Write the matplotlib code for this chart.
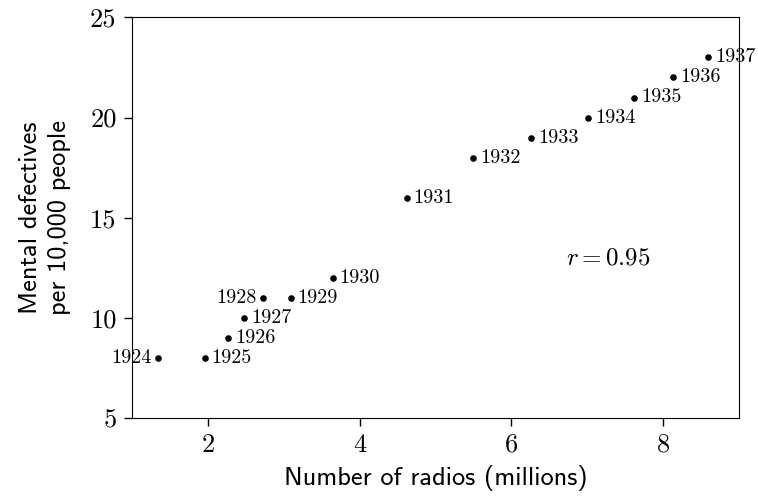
"""Radios vs mental defectives scatter"""

import matplotlib.pyplot as plt

plt.rcParams['mathtext.fontset'] = 'cm'
plt.rcParams['axes.unicode_minus'] = False

years = [1924, 1925, 1926, 1927, 1928, 1929, 1930,
         1931, 1932, 1933, 1934, 1935, 1936, 1937]
radios = [1.350, 1.960, 2.270, 2.483, 2.730, 3.091, 3.647,
          4.620, 5.497, 6.260, 7.012, 7.618, 8.131, 8.593]
defectives = [8, 8, 9, 10, 11, 11, 12, 16, 18, 19, 20, 21, 22, 23]
left_labels = [1924, 1928]

fig = plt.figure(figsize=(7.58, 4.97), dpi=100)
ax = fig.add_axes([0.174, 0.159, 0.801, 0.806])

ax.scatter(radios, defectives, s=14, color='black', zorder=3)

# 年份标注
for yr, x, y in zip(years, radios, defectives):
    if yr in left_labels:
        ax.annotate(str(yr), (x, y), xytext=(-5, 0), textcoords='offset points',
                    ha='right', va='center', fontsize=14.5, family='cmr10')
    else:
        ax.annotate(str(yr), (x, y), xytext=(5, 0), textcoords='offset points',
                    ha='left', va='center', fontsize=14.5, family='cmr10')

ax.text(6.72, 13, r'$r = 0.95$', fontsize=18, va='center', ha='left')

ax.set_xlim(1, 9)
ax.set_ylim(5, 25)
ax.set_xticks([2, 4, 6, 8])
ax.set_yticks([5, 10, 15, 20, 25])

for lab in ax.get_xticklabels() + ax.get_yticklabels():
    lab.set_family('cmr10')
    lab.set_fontsize(19)

ax.tick_params(direction='out', length=6, width=1, pad=5)
ax.set_xlabel('Number of radios (millions)', fontsize=19, family='cmss10', labelpad=6)
ax.set_ylabel('Mental defectives\nper 10,000 people', fontsize=19, family='cmss10',
              labelpad=14, linespacing=1.33)

plt.savefig('out.png', dpi=100)
